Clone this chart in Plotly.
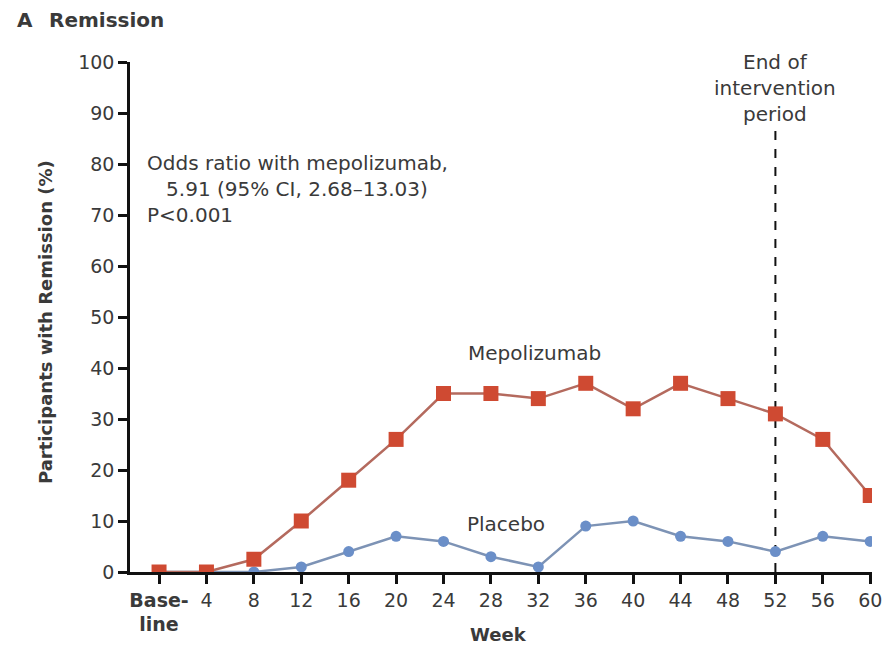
import plotly.graph_objects as go

# Study weeks and tick labels
weeks = [0, 4, 8, 12, 16, 20, 24, 28, 32, 36, 40, 44, 48, 52, 56, 60]
week_labels = ["<b>Base-</b><br><b>line</b>", "4", "8", "12", "16", "20", "24", "28",
               "32", "36", "40", "44", "48", "52", "56", "60"]

# Percentage of participants in remission at each visit
mepolizumab = [0, 0, 2.5, 10, 18, 26, 35, 35, 34, 37, 32, 37, 34, 31, 26, 15]
placebo = [0, 0, 0, 1, 4, 7, 6, 3, 1, 9, 10, 7, 6, 4, 7, 6]

y_ticks = [0, 10, 20, 30, 40, 50, 60, 70, 80, 90, 100]
end_of_intervention_week = 52

FONT = "DejaVu Sans"
TXT = "#3a3a3a"

fig = go.Figure()

# Dashed marker for the end of the intervention period
fig.add_trace(go.Scatter(
    x=[end_of_intervention_week, end_of_intervention_week], y=[0, 87],
    mode="lines", line=dict(color="#111111", width=2, dash="dash"),
    hoverinfo="skip", showlegend=False,
))

fig.add_trace(go.Scatter(
    x=weeks, y=placebo, mode="lines+markers", name="Placebo",
    line=dict(color="#7d93b5", width=2.5),
    marker=dict(symbol="circle", size=11, color="#6b8fc8"),
    showlegend=False,
))

fig.add_trace(go.Scatter(
    x=weeks, y=mepolizumab, mode="lines+markers", name="Mepolizumab",
    line=dict(color="#b46a5e", width=2.5),
    marker=dict(symbol="square", size=15, color="#cf4a32"),
    showlegend=False,
))

axis_style = dict(
    showgrid=False, zeroline=False, showline=True, linecolor="#111111", linewidth=2.5,
    ticks="outside", ticklen=9, tickwidth=2.5, tickcolor="#111111",
    tickfont=dict(family=FONT, size=19, color=TXT), automargin=False,
)

fig.update_layout(
    width=883, height=650,
    margin=dict(l=130, r=11, t=62, b=78),
    plot_bgcolor="white", paper_bgcolor="white",
    font=dict(family=FONT, size=19, color=TXT),
    xaxis=dict(range=[-2.45, 60.15], tickvals=weeks, ticktext=week_labels, **axis_style),
    yaxis=dict(range=[0, 100], tickvals=y_ticks, **axis_style),
)

# Panel heading and axis titles
fig.add_annotation(text="<b>A</b>", xref="paper", yref="paper", x=-0.155, y=1.082,
                   xanchor="left", yanchor="middle", showarrow=False,
                   font=dict(family=FONT, size=20, color=TXT))
fig.add_annotation(text="<b>Remission</b>", xref="paper", yref="paper", x=-0.112, y=1.082,
                   xanchor="left", yanchor="middle", showarrow=False,
                   font=dict(family=FONT, size=20, color=TXT))
fig.add_annotation(text="<b>Participants with Remission (%)</b>", xref="paper", yref="paper",
                   x=-0.1146, y=0.49, xanchor="center", yanchor="middle", textangle=-90,
                   showarrow=False, font=dict(family=FONT, size=18, color=TXT))
fig.add_annotation(text="<b>Week</b>", xref="paper", yref="paper", x=0.497, y=-0.1235,
                   xanchor="center", yanchor="middle", showarrow=False,
                   font=dict(family=FONT, size=18, color=TXT))

# In-plot notes
fig.add_annotation(text="Odds ratio with mepolizumab,<br>   5.91 (95% CI, 2.68–13.03)<br>P<0.001",
                   x=-1.18, y=82.9, xref="x", yref="y", xanchor="left", yanchor="top",
                   align="left", showarrow=False,
                   font=dict(family=FONT, size=20, color=TXT))
fig.add_annotation(text="End of<br>intervention<br>period", x=end_of_intervention_week, y=94.9,
                   xref="x", yref="y", xanchor="center", yanchor="middle", align="center",
                   showarrow=False, font=dict(family=FONT, size=20, color=TXT))
fig.add_annotation(text="Mepolizumab", x=31.7, y=42.9, xref="x", yref="y",
                   xanchor="center", yanchor="middle", showarrow=False,
                   font=dict(family=FONT, size=20, color=TXT))
fig.add_annotation(text="Placebo", x=29.3, y=9.4, xref="x", yref="y",
                   xanchor="center", yanchor="middle", showarrow=False,
                   font=dict(family=FONT, size=20, color=TXT))

fig.write_html("out.html")
